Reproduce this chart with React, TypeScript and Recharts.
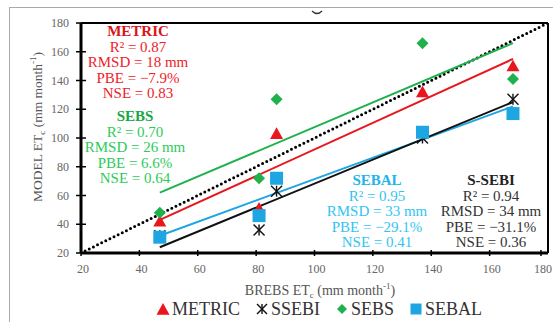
import React from 'react';
import { ComposedChart, ReferenceLine, Scatter, XAxis, YAxis } from 'recharts';

// BREBS ETc (x) vs model ETc (y), mm/month
const brebs = [47, 81, 87, 137, 168];
const metric = [42, 51, 103, 132, 150];
const ssebi = [32, 36, 63, 100, 127];
const sebs = [48, 72, 127, 166, 141];
const sebal = [31, 46, 72, 104, 117];

// fitted lines, read at both ends
const trendX = [47, 168];
const metricTrend = [43, 155];
const ssebiTrend = [24, 125];
const sebsTrend = [62, 166];
const sebalTrend = [32, 122];
const oneToOne = [20, 180];

const axisTicks = [20, 40, 60, 80, 100, 120, 140, 160, 180];

const metricStats = ['R² = 0.87', 'RMSD = 18 mm', 'PBE = −7.9%', 'NSE = 0.83'];
const sebsStats = ['R² = 0.70', 'RMSD = 26 mm', 'PBE = 6.6%', 'NSE = 0.64'];
const sebalStats = ['R² = 0.95', 'RMSD = 33 mm', 'PBE = −29.1%', 'NSE = 0.41'];
const ssebiStats = ['R² = 0.94', 'RMSD = 34 mm', 'PBE = −31.1%', 'NSE = 0.36'];

const legendNames = ['METRIC', 'SSEBI', 'SEBS', 'SEBAL'];

const RED = '#e8161d';
const GREEN = '#1fb14c';
const BLUE = '#1ea6e2';
const BLACK = '#111';
const serif = '"Liberation Serif", "Times New Roman", serif';

const toPoints = (xs: number[], ys: number[]) => xs.map((x, i) => ({ x, y: ys[i] }));

// "half" is used instead of "size" because Scatter passes its own size prop
const Triangle = ({ cx, cy, half = 6.5 }: any) => (
	<polygon points={`${cx},${cy - half} ${cx + half},${cy + half * 0.8} ${cx - half},${cy + half * 0.8}`} fill={RED} />
);
const Star = ({ cx, cy, half = 5.5 }: any) => (
	<g stroke={BLACK} strokeWidth={1.4}>
		<line x1={cx - half} y1={cy - half} x2={cx + half} y2={cy + half} />
		<line x1={cx - half} y1={cy + half} x2={cx + half} y2={cy - half} />
		<line x1={cx} y1={cy - half} x2={cx} y2={cy + half} />
	</g>
);
const Diamond = ({ cx, cy, half = 6 }: any) => (
	<polygon points={`${cx},${cy - half} ${cx + half},${cy} ${cx},${cy + half} ${cx - half},${cy}`} fill={GREEN} />
);
const Square = ({ cx, cy, half = 6.5 }: any) => (
	<rect x={cx - half} y={cy - half} width={half * 2} height={half * 2} fill={BLUE} />
);
const NoDot = () => <g />;

const XTick = ({ x, y, payload }: any) => (
	<g>
		<line x1={x} x2={x} y1={y - 3} y2={y + 3} stroke="#000" strokeWidth={1.5} />
		<text x={x + 2} y={y + 20} textAnchor="middle" fill="#666" fontSize={12} fontFamily={serif}>{payload.value}</text>
	</g>
);
const YTick = ({ x, y, payload }: any) => (
	<g>
		<line x1={x - 5} x2={x + 5} y1={y} y2={y} stroke="#000" strokeWidth={1.5} />
		<text x={x - 12} y={y + 4} textAnchor="end" fill="#666" fontSize={12} fontFamily={serif}>{payload.value}</text>
	</g>
);

const StatBlock = ({ title, lines, cx, top, titleColor, color }: any) => (
	<div style={{ position: 'absolute', left: cx - 90, width: 180, top, textAlign: 'center', fontFamily: serif, fontSize: 15, lineHeight: '15.6px', color }}>
		<div style={{ fontWeight: 'bold', color: titleColor }}>{title}</div>
		{lines.map((l: string) => <div key={l}>{l}</div>)}
	</div>
);

const legendMarks = [
	<svg width={14} height={14} key="m"><Triangle cx={7} cy={7.5} half={6.5} /></svg>,
	<svg width={14} height={14} key="s"><Star cx={7} cy={7} half={5} /></svg>,
	<svg width={14} height={14} key="e"><Diamond cx={7} cy={7} half={5} /></svg>,
	<svg width={14} height={14} key="b"><Square cx={7} cy={7} half={5.5} /></svg>,
];

export default function App() {
	return (
		<div style={{ position: 'fixed', left: 0, top: 0, width: 553, height: 322, overflow: 'hidden', background: '#fff' }}>
			<div style={{ position: 'absolute', left: 9, top: 7, width: 700, height: 500, border: '1px solid #aaa' }} />
			{/* leftover of a cropped caption above the frame */}
			<svg style={{ position: 'absolute', left: 310, top: 9 }} width={14} height={8}>
				<path d="M2,2 Q7,7 12,2" fill="none" stroke="#333" strokeWidth={1.3} />
			</svg>
			<div style={{ position: 'absolute', left: 0, top: 0 }}>
				<ComposedChart width={553} height={322} margin={{ top: 23, right: 5, bottom: 39, left: 41 }}>
					<XAxis type="number" dataKey="x" domain={[20, 180]} ticks={axisTicks} allowDataOverflow
					       height={30} tickSize={0} tickMargin={0} tickLine={false} tick={<XTick />}
					       axisLine={{ stroke: '#000', strokeWidth: 3 }} />
					<YAxis type="number" dataKey="y" domain={[20, 180]} ticks={axisTicks} allowDataOverflow
					       width={40} tickSize={0} tickMargin={0} tickLine={false} tick={<YTick />}
					       axisLine={{ stroke: '#000', strokeWidth: 3 }} />
					<ReferenceLine y={180} stroke="#000" strokeWidth={2} />
					<ReferenceLine x={180} stroke="#000" strokeWidth={2} />
					<Scatter data={toPoints(oneToOne, oneToOne)} fill="#000" shape={<NoDot />} isAnimationActive={false}
					         line={{ stroke: '#000', strokeWidth: 3, strokeDasharray: '0 4.6', strokeLinecap: 'round' }} />
					<Scatter data={toPoints(trendX, sebsTrend)} fill={GREEN} shape={<NoDot />} isAnimationActive={false}
					         line={{ stroke: GREEN, strokeWidth: 2 }} />
					<Scatter data={toPoints(trendX, metricTrend)} fill={RED} shape={<NoDot />} isAnimationActive={false}
					         line={{ stroke: RED, strokeWidth: 2 }} />
					<Scatter data={toPoints(trendX, sebalTrend)} fill={BLUE} shape={<NoDot />} isAnimationActive={false}
					         line={{ stroke: BLUE, strokeWidth: 2 }} />
					<Scatter data={toPoints(trendX, ssebiTrend)} fill={BLACK} shape={<NoDot />} isAnimationActive={false}
					         line={{ stroke: BLACK, strokeWidth: 2 }} />
					<Scatter data={toPoints(brebs, metric)} fill={RED} shape={<Triangle />} isAnimationActive={false} />
					<Scatter data={toPoints(brebs, ssebi)} fill={BLACK} shape={<Star />} isAnimationActive={false} />
					<Scatter data={toPoints(brebs, sebs)} fill={GREEN} shape={<Diamond />} isAnimationActive={false} />
					<Scatter data={toPoints(brebs, sebal)} fill={BLUE} shape={<Square />} isAnimationActive={false} />
				</ComposedChart>
			</div>

			<StatBlock title="METRIC" lines={metricStats} cx={138} top={24} titleColor="#d9141b" color="#ee2229" />
			<StatBlock title="SEBS" lines={sebsStats} cx={135} top={109} titleColor="#17a843" color="#2ccc58" />
			<StatBlock title="SEBAL" lines={sebalStats} cx={377} top={173} titleColor="#22b4ea" color="#33c4f2" />
			<StatBlock title="S-SEBI" lines={ssebiStats} cx={491} top={173} titleColor="#222" color="#333" />

			<div style={{ position: 'absolute', left: 200, width: 240, top: 277, textAlign: 'center', fontFamily: serif, fontSize: 14, color: '#555', lineHeight: '18px' }}>
				BREBS ET<sub style={{ fontSize: 9 }}>c</sub> (mm month<sup style={{ fontSize: 9 }}>-1</sup>)
			</div>
			<div style={{ position: 'absolute', left: 33 - 100, width: 200, top: 127 - 9, height: 18, textAlign: 'center', fontFamily: serif, fontSize: 13.5, color: '#555', lineHeight: '18px', transform: 'rotate(-90deg)' }}>
				MODEL  ET<sub style={{ fontSize: 9 }}>c</sub> (mm month<sup style={{ fontSize: 9 }}>-1</sup>)
			</div>

			<div style={{ position: 'absolute', left: 156, top: 299, display: 'flex', alignItems: 'center', gap: 15, fontFamily: serif, fontSize: 18, color: '#333', lineHeight: '20px' }}>
				{legendNames.map((name, i) => (
					<div key={name} style={{ display: 'flex', alignItems: 'center', gap: 2 }}>
						{legendMarks[i]}
						<span>{name}</span>
					</div>
				))}
			</div>
		</div>
	);
}
